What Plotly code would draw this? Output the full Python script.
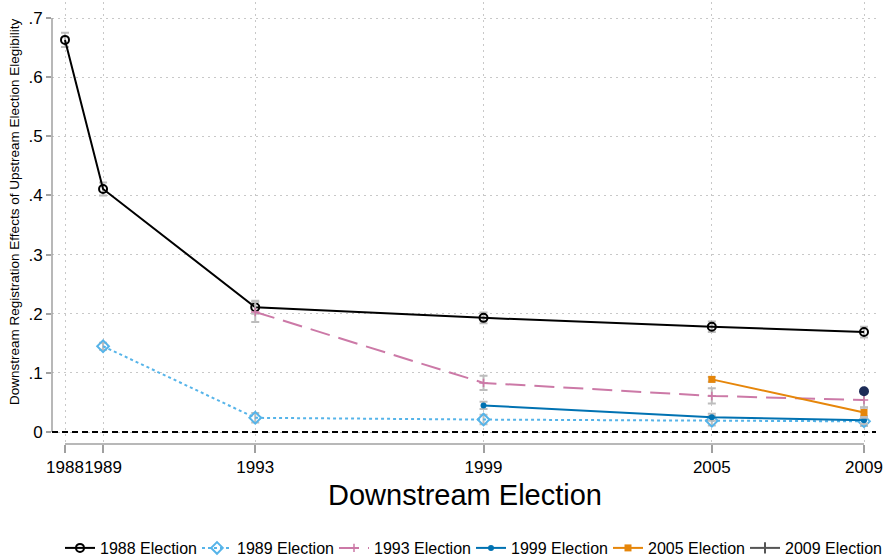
import plotly.graph_objects as go

# Downstream election years (x axis)
years = [1988, 1989, 1993, 1999, 2005, 2009]
year_labels = ["1988", "1989", "1993", "1999", "2005", "2009"]

# Estimated effects by upstream election, with half-widths of the confidence intervals
x_1988 = [1988, 1989, 1993, 1999, 2005, 2009]
y_1988 = [0.663, 0.411, 0.211, 0.193, 0.178, 0.169]
e_1988 = [0.012, 0.011, 0.011, 0.009, 0.009, 0.009]

x_1989 = [1989, 1993, 1999, 2005, 2009]
y_1989 = [0.145, 0.024, 0.021, 0.019, 0.018]
e_1989 = [0.006, 0.008, 0.008, 0.008, 0.008]

x_1993 = [1993, 1999, 2005, 2009]
y_1993 = [0.203, 0.083, 0.061, 0.054]
e_1993 = [0.017, 0.012, 0.013, 0.013]

x_1999 = [1999, 2005, 2009]
y_1999 = [0.045, 0.025, 0.020]
e_1999 = [0.006, 0.006, 0.006]

x_2005 = [2005, 2009]
y_2005 = [0.089, 0.033]
e_2005 = [0.004, 0.009]

x_2009 = [2009]
y_2009 = [0.069]

y_ticks = [0, 0.1, 0.2, 0.3, 0.4, 0.5, 0.6, 0.7]
y_tick_labels = ["0", ".1", ".2", ".3", ".4", ".5", ".6", ".7"]

FONT = "Liberation Sans, Arial, Helvetica, sans-serif"
CI_COLOR = "#bdbdbd"
GRID = dict(showgrid=True, gridcolor="#c8c8c8", griddash="1.5px,4.5px", gridwidth=1)

def ci(err):
    return dict(type="data", array=err, color=CI_COLOR, thickness=2, width=4)

fig = go.Figure()

fig.add_trace(go.Scatter(
    x=x_1988, y=y_1988, name="1988 Election", mode="lines+markers",
    line=dict(color="black", width=2),
    marker=dict(symbol="circle-open", size=8, color="black", line=dict(width=2)),
    error_y=ci(e_1988)))

fig.add_trace(go.Scatter(
    x=x_1989, y=y_1989, name="1989 Election", mode="lines+markers",
    line=dict(color="#56B4E9", width=2, dash="dot"),
    marker=dict(symbol="diamond-open", size=9, color="#56B4E9", line=dict(width=2)),
    error_y=ci(e_1989)))

fig.add_trace(go.Scatter(
    x=x_1993, y=y_1993, name="1993 Election", mode="lines+markers",
    line=dict(color="#CC79A7", width=2, dash="20px,9px"),
    marker=dict(symbol="cross-thin-open", size=6, color="#CC79A7", line=dict(width=1.5, color="#CC79A7")),
    error_y=ci(e_1993)))

fig.add_trace(go.Scatter(
    x=x_1999, y=y_1999, name="1999 Election", mode="lines+markers",
    line=dict(color="#0072B2", width=2),
    marker=dict(symbol="circle", size=6, color="#0072B2"),
    error_y=ci(e_1999)))

fig.add_trace(go.Scatter(
    x=x_2005, y=y_2005, name="2005 Election", mode="lines+markers",
    line=dict(color="#E6860A", width=2),
    marker=dict(symbol="square", size=7, color="#E6860A"),
    error_y=ci(e_2005)))

fig.add_trace(go.Scatter(
    x=x_2009, y=y_2009, name="2009 Election", mode="markers",
    marker=dict(symbol="circle", size=10, color="#1c2b57"),
    showlegend=False))

# Legend key for the 2009 series
fig.add_trace(go.Scatter(
    x=[None], y=[None], name="2009 Election", mode="lines+markers",
    line=dict(color="#555555", width=2),
    marker=dict(symbol="line-ns", size=8, color="#555555", line=dict(width=2, color="#555555"))))

# Axis lines spanning only the data range, plus the dashed zero reference
fig.add_shape(type="line", xref="x", yref="paper", x0=1988, x1=2009, y0=0, y1=0,
              line=dict(color="#a0a0a0", width=1.5))
fig.add_shape(type="line", xref="paper", yref="y", x0=0, x1=0, y0=0, y1=0.7,
              line=dict(color="#a0a0a0", width=1.5))
fig.add_shape(type="line", xref="paper", yref="y", x0=0, x1=1, y0=0, y1=0,
              line=dict(color="black", width=1.8, dash="6px,4px"), layer="above")

fig.add_annotation(text="Downstream Election", xref="paper", yref="paper",
                   x=0.501, y=-0.1154, xanchor="center", yanchor="middle",
                   showarrow=False, font=dict(size=29, color="black", family=FONT))
fig.add_annotation(text="Downstream Registration Effects of Upstream Election Elegibility",
                   xref="paper", yref="paper", x=-0.0449, y=0.525, textangle=-90,
                   xanchor="center", yanchor="middle", showarrow=False,
                   font=dict(size=13.5, color="black", family=FONT))

fig.update_layout(
    width=884, height=560,
    margin=dict(l=52, r=8, t=2, b=116),
    paper_bgcolor="white", plot_bgcolor="white",
    font=dict(family=FONT, color="black"),
    showlegend=True,
    legend=dict(orientation="h", xref="container", yref="container",
                x=60 / 884, y=1 - 548 / 560, xanchor="left", yanchor="middle",
                font=dict(size=16, color="black", family=FONT),
                entrywidth=92, entrywidthmode="pixels",
                tracegroupgap=0, itemwidth=30, bgcolor="rgba(0,0,0,0)"),
    xaxis=dict(range=[1987.6583, 2009.3154], tickmode="array", tickvals=years,
               ticktext=year_labels, tickangle=0, ticks="outside", ticklen=8,
               tickcolor="#a0a0a0", tickwidth=1.5, showline=False, zeroline=False,
               tickfont=dict(size=17, color="black", family=FONT), **GRID),
    yaxis=dict(range=[-0.02029, 0.7271], tickmode="array", tickvals=y_ticks,
               ticktext=y_tick_labels, ticks="outside", ticklen=5,
               tickcolor="#a0a0a0", tickwidth=1.5, showline=False, zeroline=False,
               tickfont=dict(size=17, color="black", family=FONT), **GRID),
)

fig.write_html("out.html")
